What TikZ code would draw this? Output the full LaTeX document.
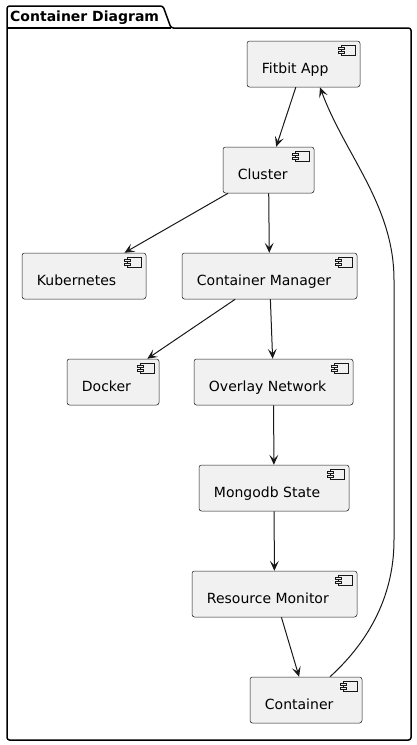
\documentclass[tikz,border=0pt]{standalone}
\usepackage{fontspec}
\setmainfont{DejaVu Sans}
\usetikzlibrary{arrows.meta}
\definecolor{compfill}{HTML}{F1F1F1}
\definecolor{compline}{HTML}{181818}
\tikzset{
  comp/.style={draw=compline, fill=compfill, line width=0.5pt,
    rounded corners=2.5pt, minimum height=46pt, inner sep=0pt},
  lbl/.style={anchor=base west, inner sep=0pt, font=\fontsize{14}{16}\selectfont},
  icon/.style={draw=compline, fill=compfill, line width=0.5pt},
  dep/.style={draw=compline, line width=1pt,
    -{Stealth[length=10pt, width=9pt, inset=4.5pt]}},
  pkg/.style={draw=black, line width=1.5pt, rounded corners=2.5pt}
}
\begin{document}
\begin{tikzpicture}[x=1pt, y=-1pt]
  \useasboundingbox (0,0) rectangle (416,745);

  \draw[pkg] (7,300) -- (7,6) -- (163,6) -- (171,28) -- (411,28)
  -- (411,740) -- (7,740) -- cycle;
  \draw[pkg] (7,28) -- (171,28);
  \node[anchor=base west, inner sep=0pt,
  font=\bfseries\fontsize{14}{16}\selectfont] (title) at (10,21) {Container Diagram};

  \node[comp, minimum width=113pt] (fitbit)    at (303.5,64)  {};
  \node[comp, minimum width=91pt]  (cluster)   at (268.5,170) {};
  \node[comp, minimum width=124pt] (kube)      at (84,276)    {};
  \node[comp, minimum width=175pt] (cmanager)  at (269.5,276) {};
  \node[comp, minimum width=92pt]  (docker)    at (113,382)   {};
  \node[comp, minimum width=159pt] (overlay)   at (273.5,382) {};
  \node[comp, minimum width=150pt] (mongo)     at (274,488)   {};
  \node[comp, minimum width=165pt] (resmon)    at (274.5,594) {};
  \node[comp, minimum width=112pt] (container) at (306,700)   {};

  \node[lbl] (fitbit-t)    at ([shift={(15pt,-33pt)}]fitbit.north west)    {Fitbit App};
  \node[lbl] (cluster-t)   at ([shift={(15pt,-33pt)}]cluster.north west)   {Cluster};
  \node[lbl] (kube-t)      at ([shift={(15pt,-33pt)}]kube.north west)      {Kubernetes};
  \node[lbl] (cmanager-t)  at ([shift={(15pt,-33pt)}]cmanager.north west)  {Container Manager};
  \node[lbl] (docker-t)    at ([shift={(15pt,-33pt)}]docker.north west)    {Docker};
  \node[lbl] (overlay-t)   at ([shift={(15pt,-33pt)}]overlay.north west)   {Overlay Network};
  \node[lbl] (mongo-t)     at ([shift={(15pt,-33pt)}]mongo.north west)     {Mongodb State};
  \node[lbl] (resmon-t)    at ([shift={(15pt,-33pt)}]resmon.north west)    {Resource Monitor};
  \node[lbl] (container-t) at ([shift={(15pt,-33pt)}]container.north west) {Container};

  \foreach \n in {fitbit,cluster,kube,cmanager,docker,overlay,mongo,resmon,container}{
    \draw[icon] ([shift={(-19pt,-4pt)}]\n.north east) rectangle ++(14pt,-10pt);
    \draw[icon] ([shift={(-22pt,-6.5pt)}]\n.north east) rectangle ++(6pt,-2pt);
    \draw[icon] ([shift={(-22pt,-10.5pt)}]\n.north east) rectangle ++(6pt,-2pt);
  }

  \draw[dep] (fitbit) -- (cluster);
  \draw[dep] (cluster) -- (kube);
  \draw[dep] (cluster) -- (cmanager);
  \draw[dep] (cmanager) -- (docker);
  \draw[dep] (cmanager) -- (overlay);
  \draw[dep] (overlay) -- (mongo);
  \draw[dep] (mongo) -- (resmon);
  \draw[dep] (resmon) -- (container);
  \draw[dep] ([xshift=24pt]container.north) .. controls (365,645) and (394,600) .. (394,540)
  -- (394,280) .. controls (394,205) and (345,155) .. ([xshift=16.5pt]fitbit.south);
\end{tikzpicture}
\end{document}
